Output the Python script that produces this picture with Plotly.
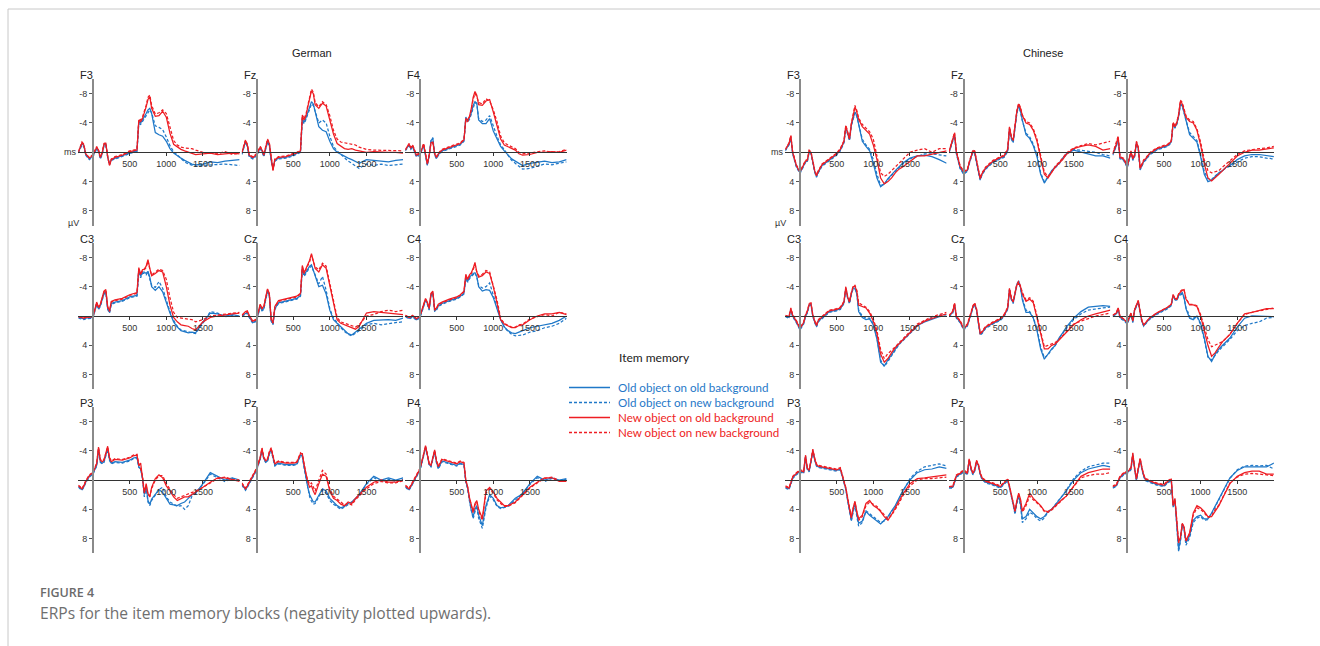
import plotly.graph_objects as go

# ---------------- data (µV, negativity up) ----------------
T = [-200, -150, -125, -100, -50, 0, 50, 75, 100, 125, 150, 175, 200, 225, 250, 300, 400, 500, 550, 600,
     625, 650, 675, 700, 725, 750, 775, 800, 850, 900, 950, 1000, 1050, 1100, 1150, 1200, 1250, 1300, 1350, 1400,
     1500, 1600, 1700, 1800, 1900, 2000]

# German
G_F3_oo = [0.0,-1.2,-0.9,0.3,0.9,0.5,-0.6,-0.2,0.8,0.2,-1.0,-1.1,0.6,1.6,1.0,0.8,0.5,0.0,-0.1,-0.2,
           -4.2,-4.0,-4.4,-4.9,-5.3,-5.8,-6.0,-5.3,-2.7,-2.4,-2.2,-1.5,-0.5,0.1,0.5,0.8,1.1,1.4,1.6,1.7,
           1.6,1.3,1.4,1.2,1.1,1.0]
G_F3_on = [0.1,-1.0,-0.8,0.4,1.0,0.6,-0.4,-0.1,0.9,0.3,-0.9,-1.0,0.7,1.7,1.1,0.9,0.6,0.1,0.0,-0.1,
           -3.9,-3.8,-4.2,-4.7,-5.1,-5.5,-5.8,-5.4,-3.6,-3.4,-3.1,-2.1,-0.9,-0.1,0.4,0.9,1.3,1.6,1.8,1.9,
           1.8,1.7,1.6,1.6,1.7,1.8]
G_F3_no = [0.0,-1.3,-1.0,0.2,0.8,0.4,-0.7,-0.3,0.7,0.1,-1.1,-1.2,0.6,1.8,1.0,0.7,0.4,-0.1,-0.2,-0.3,
           -4.4,-4.2,-4.6,-5.3,-6.2,-7.2,-7.6,-6.0,-4.9,-5.0,-5.6,-4.8,-2.6,-1.1,-0.7,-0.4,-0.2,0.0,0.2,0.3,
           0.2,0.1,0.3,0.2,0.1,0.2]
G_F3_nn = [-0.1,-1.4,-1.1,0.2,0.7,0.3,-0.8,-0.3,0.6,0.0,-1.2,-1.3,0.5,1.7,0.9,0.6,0.3,-0.2,-0.3,-0.4,
           -4.5,-4.4,-4.8,-5.5,-6.4,-7.5,-7.8,-6.4,-5.2,-5.4,-5.8,-5.3,-3.3,-1.6,-1.0,-0.7,-0.6,-0.6,-0.5,-0.3,
           0.0,0.1,0.2,-0.1,0.3,0.1]

G_Fz_oo = [0.2,-1.5,-0.9,0.5,0.8,0.4,-0.6,-0.2,0.5,-0.4,-1.5,-1.0,1.1,2.2,1.1,0.8,0.7,0.4,0.2,-0.1,
           -4.6,-4.1,-4.7,-5.5,-6.3,-6.9,-6.6,-5.6,-3.5,-3.0,-2.8,-1.5,-0.5,0.0,0.3,0.6,0.8,1.0,1.3,1.5,
           1.0,1.1,1.2,1.3,1.1,1.0]
G_Fz_on = [0.3,-1.4,-0.8,0.6,0.9,0.5,-0.5,-0.1,0.6,-0.3,-1.4,-0.9,1.2,2.3,1.2,0.9,0.8,0.5,0.3,0.0,
           -4.3,-3.9,-4.5,-5.3,-6.0,-6.6,-6.4,-5.5,-4.0,-4.4,-4.0,-2.2,-0.8,-0.2,0.3,0.8,1.2,1.5,1.8,2.2,
           1.6,1.8,1.6,1.8,1.7,1.6]
G_Fz_no = [0.1,-1.6,-1.0,0.4,0.7,0.3,-0.7,-0.3,0.4,-0.5,-1.7,-1.2,1.0,2.5,1.0,0.7,0.6,0.3,0.1,-0.2,
           -5.0,-4.4,-5.0,-6.2,-7.4,-8.4,-8.0,-6.5,-6.0,-6.7,-6.3,-4.5,-2.5,-1.2,-0.8,-0.5,-0.4,-0.5,-0.3,-0.2,
           0.0,-0.1,0.0,0.0,0.0,0.1]
G_Fz_nn = [0.0,-1.7,-1.1,0.3,0.6,0.2,-0.8,-0.4,0.3,-0.6,-1.8,-1.3,0.9,2.4,0.9,0.6,0.5,0.2,0.0,-0.3,
           -5.1,-4.6,-5.2,-6.4,-7.6,-8.6,-8.2,-6.8,-6.2,-6.9,-6.5,-5.0,-3.0,-1.8,-1.4,-1.3,-1.3,-1.2,-1.0,-0.7,
           -0.4,-0.3,-0.3,-0.3,-0.2,-0.2]

G_F4_oo = [-0.3,-1.0,-0.5,-0.8,0.5,0.3,-1.0,0.3,1.7,0.5,-1.6,-1.9,0.3,0.8,0.3,-0.2,-0.6,-0.9,-1.1,-1.6,
           -4.8,-4.3,-4.7,-5.4,-6.4,-6.9,-6.7,-4.4,-3.9,-3.9,-4.6,-2.9,-1.9,-0.8,-0.2,0.3,0.9,1.2,1.5,1.8,
           1.5,1.4,1.2,1.4,1.3,1.0]
G_F4_on = [-0.2,-0.9,-0.4,-0.7,0.6,0.4,-0.9,0.4,1.8,0.6,-1.5,-2.0,0.4,0.9,0.4,-0.1,-0.5,-0.8,-1.0,-1.5,
           -4.6,-4.1,-4.5,-5.2,-6.2,-6.8,-6.6,-4.6,-4.2,-4.4,-5.0,-3.5,-2.2,-1.0,-0.4,0.4,1.1,1.5,1.9,2.3,
           2.2,1.9,1.6,1.7,1.5,1.3]
G_F4_no = [-0.4,-1.1,-0.6,-0.9,0.4,0.2,-1.1,0.2,1.6,0.4,-1.3,-1.4,0.2,0.7,0.2,-0.3,-0.7,-1.0,-1.2,-1.7,
           -4.6,-4.4,-4.9,-6.0,-7.5,-8.3,-7.8,-6.5,-6.4,-7.0,-7.2,-5.5,-3.8,-1.8,-1.0,-0.8,-0.6,-0.3,0.2,0.4,
           0.3,0.0,0.0,-0.1,0.0,-0.3]
G_F4_nn = [-0.3,-1.2,-0.7,-1.0,0.3,0.1,-1.2,0.1,1.5,0.3,-1.2,-1.3,0.1,0.6,0.1,-0.4,-0.8,-1.1,-1.3,-1.8,
           -4.4,-4.2,-4.8,-5.8,-7.2,-8.0,-7.6,-6.8,-6.6,-7.3,-7.0,-5.8,-4.2,-2.2,-1.3,-1.0,-0.7,-0.5,0.0,0.2,
           0.1,-0.1,-0.2,0.0,-0.1,-0.4]

G_C3_oo = [0.2,0.3,0.4,0.3,0.2,0.2,-1.7,-1.0,-1.4,-2.1,-3.1,-3.3,-1.0,-0.5,-1.7,-1.9,-2.1,-2.6,-2.7,-2.8,
           -6.3,-5.4,-6.0,-6.0,-5.8,-6.1,-5.3,-4.0,-3.5,-4.0,-3.3,-1.7,-0.4,0.8,1.5,2.0,2.1,2.3,2.2,2.3,
           0.8,-0.4,-0.3,0.0,-0.2,0.0]
G_C3_on = [0.3,0.4,0.5,0.4,0.3,0.3,-1.6,-0.9,-1.3,-2.0,-3.0,-3.2,-0.9,-0.4,-1.6,-1.8,-2.0,-2.5,-2.6,-2.7,
           -6.0,-5.2,-5.8,-5.8,-5.6,-6.0,-5.0,-4.2,-3.9,-4.7,-3.8,-2.2,-0.6,0.6,1.4,1.9,2.0,2.2,2.3,2.4,
           1.0,-0.6,-0.4,0.1,-0.1,0.1]
G_C3_no = [0.1,0.3,0.3,0.2,0.2,0.1,-1.9,-1.2,-1.6,-2.4,-3.4,-3.6,-1.3,-0.7,-2.0,-2.2,-2.4,-2.9,-3.0,-3.2,
           -6.6,-5.7,-6.3,-6.4,-6.8,-7.7,-6.5,-5.5,-5.8,-6.2,-6.0,-4.0,-1.5,0.2,0.8,1.2,1.3,1.4,1.7,1.9,
           0.8,0.2,0.0,-0.2,-0.3,-0.4]
G_C3_nn = [0.1,0.2,0.3,0.2,0.1,0.1,-1.8,-1.1,-1.5,-2.3,-3.3,-3.5,-1.2,-0.6,-1.9,-2.1,-2.3,-2.8,-2.9,-3.1,
           -6.4,-5.6,-6.2,-6.3,-6.6,-7.5,-6.4,-5.6,-6.0,-6.4,-6.2,-5.0,-2.5,-0.5,0.2,0.3,0.3,0.5,0.5,0.8,
           0.5,0.0,-0.1,-0.3,-0.4,-0.5]

G_Cz_oo = [0.0,-0.4,-0.5,0.1,0.9,0.6,-1.3,-0.8,-1.0,-2.3,-3.4,-2.8,0.6,1.1,-1.0,-1.8,-2.0,-2.2,-2.4,-2.8,
           -6.5,-5.6,-6.0,-6.4,-6.8,-7.0,-6.3,-5.4,-4.0,-4.2,-3.0,-0.8,0.5,1.0,1.5,2.0,2.4,2.6,2.2,1.8,
           1.0,0.6,0.5,0.5,0.6,0.3]
G_Cz_on = [0.1,-0.3,-0.4,0.2,1.0,0.7,-1.2,-0.7,-0.9,-2.2,-3.3,-2.7,0.7,1.2,-0.9,-1.7,-1.9,-2.1,-2.3,-2.7,
           -6.3,-5.4,-5.8,-6.2,-6.6,-6.8,-6.2,-5.6,-4.4,-5.4,-3.5,-1.0,0.3,0.9,1.6,2.1,2.5,2.7,2.4,2.0,
           1.2,1.0,1.2,1.0,0.9,0.8]
G_Cz_no = [-0.1,-0.6,-0.7,-0.1,0.7,0.4,-1.6,-1.1,-1.3,-2.6,-3.7,-3.1,0.4,0.9,-1.3,-2.1,-2.3,-2.5,-2.7,-3.1,
           -6.9,-5.9,-6.4,-6.9,-7.6,-8.5,-7.5,-6.5,-6.0,-7.0,-6.5,-4.0,-1.5,0.5,1.0,1.2,1.3,1.5,1.8,1.4,
           -0.4,-0.6,-0.5,-0.3,-0.3,-0.2]
G_Cz_nn = [-0.1,-0.5,-0.6,0.0,0.8,0.5,-1.5,-1.0,-1.2,-2.5,-3.6,-3.0,0.5,1.0,-1.2,-2.0,-2.2,-2.4,-2.6,-3.0,
           -6.7,-5.8,-6.3,-6.7,-7.4,-8.3,-7.4,-6.7,-6.3,-7.2,-6.8,-4.5,-2.0,0.2,0.8,1.0,1.1,1.3,1.5,1.2,
           0.0,-0.2,-0.6,-0.8,-0.6,-0.8]

G_C4_oo = [0.0,0.3,0.2,0.0,0.5,0.1,-1.4,-2.2,-1.7,-0.9,-2.9,-3.2,-0.7,-0.9,-1.4,-1.7,-2.1,-2.4,-2.7,-3.1,
           -5.3,-4.7,-5.3,-5.6,-5.8,-5.9,-5.4,-4.0,-3.4,-3.6,-3.5,-2.5,-1.0,0.5,1.5,2.0,2.3,2.4,2.2,2.0,
           1.6,1.4,1.2,1.0,0.6,0.0]
G_C4_on = [0.1,0.4,0.3,0.1,0.6,0.2,-1.3,-2.1,-1.6,-0.8,-2.8,-3.1,-0.6,-0.8,-1.3,-1.6,-2.0,-2.3,-2.6,-3.0,
           -5.1,-4.6,-5.1,-5.4,-5.7,-5.9,-5.3,-4.2,-3.8,-4.0,-4.5,-3.0,-1.2,0.4,1.5,2.1,2.5,2.7,2.7,2.6,
           2.2,2.0,1.6,1.4,1.0,0.3]
G_C4_no = [-0.1,0.2,0.1,-0.1,0.4,0.0,-1.6,-2.4,-1.9,-1.1,-3.1,-3.4,-0.9,-1.1,-1.6,-1.9,-2.3,-2.6,-2.9,-3.4,
           -5.7,-5.0,-5.6,-5.9,-6.5,-7.3,-6.0,-5.3,-5.5,-6.0,-5.8,-4.0,-1.8,0.5,1.1,1.4,1.6,1.6,1.3,1.2,
           0.5,0.0,-0.3,-0.3,-0.5,-0.2]
G_C4_nn = [-0.1,0.2,0.1,-0.1,0.3,0.0,-1.5,-2.3,-1.8,-1.0,-3.0,-3.3,-0.8,-1.0,-1.5,-1.8,-2.2,-2.5,-2.8,-3.3,
           -5.5,-4.9,-5.5,-5.8,-6.3,-7.0,-6.0,-5.5,-5.7,-6.2,-6.0,-4.2,-2.2,0.3,1.0,1.3,1.5,1.5,1.2,1.1,
           0.4,0.1,-0.2,0.0,-0.5,-0.3]

G_P3_oo = [0.9,1.3,0.9,0.3,-0.5,-0.9,-2.0,-4.2,-2.5,-2.3,-2.5,-3.3,-4.3,-2.8,-2.3,-2.5,-2.4,-2.7,-3.0,-3.1,
           -1.8,-1.5,-0.3,2.0,0.8,2.8,3.3,2.6,1.9,1.3,1.7,2.6,3.3,3.4,3.5,3.2,3.0,2.5,2.0,1.8,
           0.5,-1.0,-0.5,0.0,-0.3,0.0]
G_P3_on = [1.0,1.4,1.0,0.4,-0.4,-0.8,-1.9,-4.0,-2.4,-2.2,-2.4,-3.2,-4.2,-2.7,-2.2,-2.4,-2.3,-2.6,-2.9,-3.0,
           -1.7,-1.6,-0.2,2.3,1.0,3.0,3.5,2.8,2.0,1.3,1.0,2.3,3.0,3.3,3.6,3.5,4.0,3.5,2.2,1.8,
           0.6,-0.8,-0.3,0.2,-0.2,0.1]
G_P3_no = [0.8,1.2,0.8,0.2,-0.6,-1.0,-2.2,-4.5,-2.7,-2.5,-2.7,-3.5,-4.6,-3.0,-2.5,-2.8,-2.7,-3.0,-3.3,-3.4,
           -2.0,-2.3,-0.5,1.8,0.5,1.8,2.3,1.0,-0.2,-0.7,-0.3,0.8,1.5,2.3,2.8,2.5,2.3,2.3,2.0,1.7,
           1.0,0.3,-0.3,-0.3,0.0,0.2]
G_P3_nn = [0.7,1.1,0.7,0.1,-0.7,-1.1,-2.3,-4.4,-2.8,-2.6,-2.8,-3.6,-4.5,-3.1,-2.6,-2.9,-2.8,-3.1,-3.4,-3.5,
           -2.1,-1.5,-0.6,1.6,0.8,2.0,2.2,1.2,0.0,-0.6,-0.6,0.5,1.2,2.0,2.5,2.3,2.1,2.0,1.8,1.5,
           1.0,0.4,-0.2,-0.4,-0.1,0.0]

G_Pz_oo = [0.6,1.3,0.9,0.4,-0.4,-1.4,-2.9,-4.1,-2.9,-2.5,-2.6,-3.6,-4.1,-2.8,-2.0,-2.3,-2.1,-2.1,-2.2,-3.4,
           -3.3,-1.8,-0.3,1.0,2.0,2.6,3.0,3.0,2.0,1.2,1.5,2.5,3.0,3.5,3.8,3.6,3.2,3.0,2.5,2.0,
           0.5,-0.5,0.0,-0.3,0.0,-0.3]
G_Pz_on = [0.7,1.4,1.0,0.5,-0.3,-1.3,-2.8,-4.0,-2.8,-2.4,-2.5,-3.5,-4.0,-2.7,-1.9,-2.2,-2.0,-2.0,-2.1,-3.3,
           -3.2,-1.6,-0.2,1.3,2.3,2.9,3.3,3.2,2.2,1.4,1.8,2.8,3.3,3.7,4.0,3.7,3.4,3.0,2.6,2.1,
           0.6,-0.3,0.2,-0.1,0.2,-0.1]
G_Pz_no = [0.5,1.2,0.8,0.3,-0.5,-1.5,-3.0,-4.3,-3.0,-2.6,-2.8,-3.8,-4.3,-3.0,-2.2,-2.5,-2.3,-2.3,-2.4,-3.6,
           -3.6,-2.1,-0.6,0.3,1.0,0.8,1.5,2.0,0.5,-0.8,-0.5,1.5,2.5,2.8,3.3,3.5,3.0,3.2,2.5,2.0,
           1.0,0.3,0.0,0.3,0.3,0.0]
G_Pz_nn = [0.4,1.1,0.7,0.2,-0.6,-1.6,-3.1,-4.4,-3.1,-2.7,-2.9,-3.9,-4.4,-3.1,-2.3,-2.6,-2.4,-2.4,-2.5,-3.7,
           -3.5,-2.2,-0.7,0.0,0.6,0.4,1.0,1.5,0.0,-1.3,-0.8,1.2,2.2,2.6,3.1,3.4,3.2,3.4,2.7,2.2,
           1.2,0.5,0.2,0.4,0.4,0.1]

G_P4_oo = [0.9,1.3,0.9,0.4,-0.4,-1.4,-3.4,-4.5,-3.4,-2.1,-1.9,-2.9,-3.9,-2.4,-1.6,-2.6,-2.3,-2.0,-2.3,-2.1,
           0.2,1.1,2.7,4.2,5.0,4.0,3.5,4.8,6.2,3.5,2.0,2.5,3.5,3.8,3.7,3.5,3.0,2.5,2.2,1.8,
           0.5,-0.5,0.0,-0.3,0.0,-0.2]
G_P4_on = [1.0,1.4,1.0,0.5,-0.3,-1.3,-3.3,-4.4,-3.3,-2.0,-1.8,-2.8,-3.8,-2.3,-1.5,-2.5,-2.2,-1.9,-2.2,-2.0,
           0.3,1.2,2.9,4.4,5.3,4.3,3.8,5.2,6.6,3.8,2.2,2.7,3.6,3.9,3.8,3.6,3.2,2.7,2.3,1.9,
           0.6,-0.3,0.2,-0.2,0.1,-0.1]
G_P4_no = [0.8,1.2,0.8,0.3,-0.5,-1.5,-3.5,-4.7,-3.5,-2.2,-2.0,-3.0,-4.1,-2.6,-1.8,-2.8,-2.5,-2.2,-2.5,-2.3,
           0.0,0.9,2.4,3.5,4.3,3.2,2.8,4.0,5.2,1.5,1.0,1.6,2.5,3.0,3.5,3.5,3.2,3.0,2.5,2.0,
           1.0,0.3,-0.3,-0.3,0.2,0.2]
G_P4_nn = [0.7,1.1,0.7,0.2,-0.6,-1.6,-3.6,-4.6,-3.6,-2.3,-2.1,-3.1,-4.0,-2.7,-1.9,-2.9,-2.6,-2.3,-2.6,-2.4,
           0.1,1.0,2.5,3.7,4.5,3.4,3.0,4.2,5.5,1.8,1.2,1.8,2.7,3.2,3.6,3.6,3.3,3.1,2.6,2.1,
           1.1,0.4,-0.2,-0.4,0.1,0.1]

# Chinese
C_F3_oo = [-0.3,-1.1,-2.0,0.1,1.9,2.8,1.8,1.3,1.2,-0.1,0.1,1.6,2.6,3.3,2.7,1.8,1.0,0.3,-0.3,-1.4,
           -3.4,-2.4,-1.7,-3.7,-4.8,-5.5,-5.0,-3.8,-1.5,-0.8,-0.2,1.5,3.5,4.7,4.3,3.6,3.0,2.5,2.0,1.5,
           0.8,0.5,0.4,0.6,1.0,1.5]
C_F3_on = [-0.2,-1.0,-1.9,0.2,2.0,2.9,1.9,1.4,1.3,0.0,0.2,1.7,2.7,3.4,2.8,1.9,1.1,0.4,-0.2,-1.3,
           -3.3,-2.3,-1.6,-3.6,-4.7,-5.4,-4.9,-3.9,-1.8,-1.0,-0.4,1.0,3.0,4.5,4.4,3.7,3.1,2.6,2.1,1.6,
           0.9,0.6,0.2,0.2,0.3,0.5]
C_F3_no = [-0.4,-1.2,-2.2,0.0,1.8,2.7,1.7,1.2,1.1,-0.2,0.0,1.5,2.5,3.2,2.6,1.7,0.9,0.2,-0.4,-1.5,
           -3.6,-2.5,-1.8,-3.8,-5.2,-6.2,-5.5,-4.5,-3.5,-3.0,-2.5,-1.0,1.0,3.5,4.3,4.0,3.5,2.8,2.3,2.0,
           1.2,0.5,0.5,0.3,0.0,-0.2]
C_F3_nn = [-0.4,-1.3,-2.3,-0.1,1.7,2.6,1.6,1.1,1.0,-0.3,-0.1,1.4,2.4,3.1,2.5,1.6,0.8,0.1,-0.5,-1.6,
           -3.7,-2.6,-1.9,-3.9,-5.4,-6.4,-5.7,-4.7,-3.8,-3.3,-2.8,-1.8,0.5,2.8,3.3,3.0,2.5,2.0,1.5,1.0,
           0.0,-0.3,-0.5,0.0,-0.5,-0.5]

C_Fz_oo = [0.0,-1.4,-2.4,0.1,2.1,2.9,2.5,1.5,0.5,-0.1,0.1,1.6,2.6,3.7,3.0,2.2,1.3,0.8,0.6,-0.2,
           -3.2,-1.9,-1.4,-3.4,-5.4,-6.4,-5.6,-4.4,-2.4,-1.9,-0.9,0.6,3.0,4.2,3.3,2.5,2.0,1.5,0.8,0.2,
           -0.3,0.0,0.3,0.5,0.5,0.8]
C_Fz_on = [0.1,-1.3,-2.3,0.2,2.2,3.0,2.6,1.6,0.6,0.0,0.2,1.7,2.7,3.8,3.1,2.3,1.4,0.9,0.7,-0.1,
           -3.1,-1.8,-1.3,-3.3,-5.3,-6.3,-5.5,-4.3,-2.6,-2.1,-1.1,0.3,2.8,4.0,3.4,2.6,2.1,1.6,0.9,0.3,
           -0.4,-0.3,-0.2,0.0,0.3,0.5]
C_Fz_no = [-0.1,-1.6,-2.6,-0.1,1.9,2.7,2.4,1.4,0.4,-0.2,-0.1,1.4,2.4,3.6,2.9,2.1,1.2,0.7,0.5,-0.4,
           -3.4,-2.1,-1.6,-3.6,-5.6,-6.6,-6.0,-5.0,-4.0,-3.8,-3.0,-1.5,1.0,3.0,3.5,2.8,2.0,1.5,1.0,0.3,
           -0.5,-0.8,-1.0,-0.8,-0.3,-0.5]
C_Fz_nn = [-0.1,-1.7,-2.7,-0.2,1.8,2.6,2.3,1.3,0.3,-0.3,-0.2,1.3,2.3,3.5,2.8,2.0,1.1,0.6,0.4,-0.5,
           -3.5,-2.2,-1.7,-3.7,-5.7,-6.7,-6.1,-5.1,-4.2,-4.0,-3.2,-1.8,0.6,2.7,3.3,2.7,1.9,1.4,0.8,0.1,
           -0.6,-0.9,-1.2,-1.0,-1.2,-1.5]

C_F4_oo = [0.3,-0.9,-1.9,0.8,1.0,2.0,0.0,1.0,0.5,-1.3,-0.5,2.3,1.8,1.2,1.0,0.3,-0.4,-0.7,-0.9,-1.4,
           -3.9,-3.4,-3.9,-4.9,-6.6,-6.4,-5.3,-4.2,-2.4,-1.9,-1.4,0.6,3.0,4.0,3.8,3.3,2.8,2.5,2.0,1.8,
           1.0,0.5,0.3,0.3,0.5,0.6]
C_F4_on = [0.4,-0.8,-1.8,0.9,1.1,2.1,0.1,1.1,0.6,-1.2,-0.4,2.4,1.9,1.3,1.1,0.4,-0.3,-0.6,-0.8,-1.3,
           -3.8,-3.3,-3.8,-4.8,-6.5,-6.3,-5.2,-4.4,-2.7,-2.2,-1.6,0.3,2.6,3.6,3.7,3.2,2.8,2.5,2.1,1.9,
           1.3,0.8,0.6,0.6,0.8,0.9]
C_F4_no = [0.2,-1.1,-2.1,0.7,0.9,1.9,-0.1,0.9,0.4,-1.4,-0.6,2.2,1.7,1.1,0.9,0.2,-0.5,-0.8,-1.0,-1.5,
           -4.0,-3.5,-4.0,-5.1,-7.0,-6.6,-5.7,-4.8,-4.2,-4.0,-3.0,-1.0,1.5,3.5,3.9,3.5,3.0,2.5,2.0,1.5,
           0.5,0.0,-0.3,-0.3,-0.5,-0.6]
C_F4_nn = [0.2,-1.2,-2.2,0.6,0.8,1.8,-0.2,0.8,0.3,-1.5,-0.7,2.1,1.6,1.0,0.8,0.1,-0.6,-0.9,-1.1,-1.6,
           -4.1,-3.6,-4.1,-5.2,-7.1,-6.8,-5.9,-5.0,-4.4,-4.2,-3.2,-1.4,1.0,2.5,2.8,2.6,2.5,2.0,1.6,1.2,
           0.3,-0.2,-0.4,-0.5,-0.6,-0.8]

C_C3_oo = [0.0,0.2,-0.9,0.0,0.8,1.8,1.0,0.0,-0.5,-1.5,-1.6,0.0,0.8,1.4,0.7,0.3,-0.6,-0.8,-1.0,-1.8,
           -3.8,-2.5,-1.8,-3.0,-3.8,-3.8,-3.0,-0.6,0.2,0.5,0.4,1.2,3.2,6.3,6.8,6.0,5.3,4.5,3.8,3.3,
           2.3,1.3,0.8,0.4,0.1,0.0]
C_C3_on = [0.1,0.3,-0.8,0.1,0.9,1.9,1.1,0.1,-0.4,-1.4,-1.5,0.1,0.9,1.5,0.8,0.4,-0.5,-0.7,-0.9,-1.7,
           -3.7,-2.4,-1.7,-2.9,-3.7,-3.7,-3.1,-0.8,0.0,0.3,0.3,1.0,3.0,6.0,6.9,6.2,5.4,4.6,3.9,3.4,
           2.4,1.4,0.7,0.2,-0.1,-0.2]
C_C3_no = [-0.1,0.1,-1.0,-0.1,0.7,1.7,0.9,-0.1,-0.6,-1.6,-1.7,-0.1,0.7,1.3,0.6,0.2,-0.7,-0.9,-1.1,-1.9,
           -3.9,-2.6,-1.9,-3.1,-4.0,-4.1,-3.4,-1.5,-1.3,-1.1,-0.4,0.7,2.4,5.2,6.3,5.8,5.0,4.3,3.8,3.3,
           2.3,1.3,0.7,0.3,0.0,-0.3]
C_C3_nn = [0.0,0.0,-1.1,-0.2,0.6,1.6,0.8,-0.2,-0.7,-1.7,-1.8,-0.2,0.6,1.2,0.5,0.1,-0.8,-1.0,-1.2,-2.0,
           -4.0,-2.7,-2.0,-3.2,-4.1,-4.2,-3.5,-1.8,-1.5,-1.2,-0.6,0.4,2.0,4.6,5.8,5.1,4.7,4.2,3.6,3.1,
           2.1,1.1,0.6,0.1,-0.2,-0.5]

C_Cz_oo = [0.0,-0.5,-1.6,0.2,0.8,1.8,1.3,0.3,-0.3,-1.2,-1.6,-0.8,1.0,2.5,2.3,1.6,1.0,0.5,0.0,-1.0,
           -3.6,-2.3,-1.8,-3.0,-4.3,-4.8,-3.9,-2.2,-0.5,-0.5,0.3,2.0,4.5,5.9,5.2,4.5,4.0,3.0,2.3,1.5,
           0.3,-0.6,-1.2,-1.3,-1.4,-1.3]
C_Cz_on = [0.1,-0.4,-1.5,0.3,0.9,1.9,1.4,0.4,-0.2,-1.1,-1.5,-0.7,1.1,2.6,2.4,1.7,1.1,0.6,0.1,-0.9,
           -3.5,-2.2,-1.7,-2.9,-4.1,-4.6,-3.8,-2.4,-0.8,-0.6,0.2,1.8,4.2,5.7,5.3,4.6,4.0,3.1,2.4,1.7,
           0.5,-0.3,-0.8,-1.0,-1.1,-1.2]
C_Cz_no = [-0.1,-0.6,-1.7,0.1,0.7,1.7,1.2,0.2,-0.4,-1.3,-1.7,-0.9,0.9,2.4,2.2,1.5,0.9,0.4,-0.1,-1.1,
           -3.7,-2.4,-1.9,-3.1,-4.2,-4.5,-4.0,-3.0,-2.0,-2.3,-1.8,0.3,2.5,4.5,4.5,4.0,3.8,3.3,2.8,2.3,
           1.2,0.5,0.0,-0.3,-0.5,-0.8]
C_Cz_nn = [0.0,-0.7,-1.8,0.0,0.6,1.6,1.1,0.1,-0.5,-1.4,-1.8,-1.0,0.8,2.3,2.1,1.4,0.8,0.3,-0.2,-1.2,
           -3.8,-2.5,-2.0,-3.2,-4.4,-4.7,-4.1,-3.2,-2.2,-2.5,-2.0,0.0,2.2,4.2,4.0,3.8,3.6,3.2,2.7,2.2,
           1.1,0.7,0.3,0.0,-0.2,-0.4]

C_C4_oo = [0.0,-0.3,-1.0,0.2,0.5,1.0,-0.3,0.8,-0.8,-1.5,-2.0,-0.5,0.8,1.3,1.0,0.4,-0.3,-0.8,-1.1,-1.5,
           -2.8,-2.3,-2.2,-2.8,-3.0,-3.2,-2.5,-1.0,0.3,0.5,0.0,1.0,3.0,5.5,6.2,5.2,4.5,4.0,3.5,3.0,
           1.5,0.3,0.0,0.0,0.1,0.1]
C_C4_on = [0.1,-0.2,-0.9,0.3,0.6,1.1,-0.2,0.9,-0.7,-1.4,-1.9,-0.4,0.9,1.4,1.1,0.5,-0.2,-0.7,-1.0,-1.4,
           -2.7,-2.2,-2.1,-2.7,-2.9,-3.0,-2.4,-1.2,0.0,0.3,0.0,1.2,3.2,5.6,6.0,5.3,4.7,4.2,3.7,3.2,
           2.0,1.3,1.0,0.8,0.3,0.2]
C_C4_no = [-0.1,-0.4,-1.1,0.1,0.4,0.9,-0.4,0.7,-0.9,-1.6,-2.1,-0.6,0.7,1.2,0.9,0.3,-0.4,-0.9,-1.2,-1.6,
           -2.9,-2.4,-2.3,-3.0,-3.3,-3.5,-3.6,-2.3,-1.5,-1.5,-1.3,0.0,2.0,4.0,5.5,5.0,4.2,3.5,3.0,2.5,
           1.0,-0.3,-0.5,-0.8,-1.0,-1.0]
C_C4_nn = [-0.1,-0.4,-1.1,0.0,0.4,0.9,-0.4,0.6,-0.9,-1.6,-2.1,-0.6,0.6,1.2,0.9,0.3,-0.4,-0.9,-1.2,-1.6,
           -2.9,-2.4,-2.3,-3.0,-3.4,-3.6,-3.5,-2.4,-1.6,-1.6,-1.4,-0.2,1.6,3.2,4.2,4.0,3.8,3.5,3.0,2.5,
           1.0,-0.2,-0.5,-0.7,-0.9,-1.1]

C_P3_oo = [1.0,1.2,0.5,-0.3,-0.8,-1.2,-1.0,-3.2,-1.5,-1.2,-2.5,-4.0,-2.8,-2.0,-1.8,-1.7,-1.5,-1.3,-1.5,0.2,
           1.2,2.7,4.0,5.5,4.2,3.2,4.7,5.9,5.6,4.3,4.8,5.2,5.5,6.0,5.5,5.0,4.2,3.5,2.5,1.5,
           0.0,-1.0,-1.4,-1.5,-1.8,-1.6]
C_P3_on = [1.1,1.3,0.6,-0.2,-0.7,-1.1,-0.9,-3.1,-1.4,-1.1,-2.4,-3.9,-2.7,-1.9,-1.7,-1.6,-1.4,-1.2,-1.4,0.3,
           1.3,2.8,4.1,5.6,4.4,3.4,5.0,6.3,5.8,4.2,4.6,5.0,5.4,5.8,5.6,5.1,4.3,3.6,2.6,1.6,
           -0.2,-1.2,-1.8,-2.0,-2.2,-1.9]
C_P3_no = [0.9,1.1,0.4,-0.4,-0.9,-1.3,-1.1,-3.3,-1.6,-1.3,-2.6,-4.1,-2.9,-2.1,-1.9,-1.8,-1.6,-1.4,-1.6,0.1,
           1.1,2.5,3.8,5.2,3.8,2.9,4.3,5.3,4.8,3.2,2.8,3.5,3.8,4.3,5.0,5.5,4.7,3.8,3.0,2.0,
           0.5,-0.2,-0.3,-0.4,-0.5,-0.7]
C_P3_nn = [0.8,1.0,0.3,-0.5,-1.0,-1.4,-1.2,-3.4,-1.7,-1.4,-2.7,-4.2,-3.0,-2.2,-2.0,-1.9,-1.7,-1.5,-1.7,0.0,
           1.0,2.4,3.7,5.0,3.9,3.0,4.4,5.5,5.0,3.5,3.0,3.3,3.6,4.2,4.8,5.3,4.8,4.0,3.2,2.2,
           0.8,0.0,-0.2,-0.2,-0.3,-0.4]

C_Pz_oo = [1.0,1.0,0.3,-0.5,-0.8,-1.2,-0.8,-2.7,-1.5,-0.8,-1.3,-2.5,-2.0,-0.8,-0.2,0.3,0.6,1.0,0.5,0.0,
           1.0,2.0,3.3,4.5,3.0,2.2,3.2,5.3,5.0,4.0,4.5,5.0,5.3,5.0,4.3,4.0,3.4,2.8,2.2,1.5,
           0.0,-1.0,-1.5,-1.8,-2.0,-1.8]
C_Pz_on = [1.1,1.1,0.4,-0.4,-0.7,-1.1,-0.7,-2.6,-1.4,-0.7,-1.2,-2.4,-1.9,-0.7,-0.1,0.4,0.7,1.1,0.6,0.1,
           1.1,2.1,3.4,4.7,3.2,2.4,3.5,5.8,5.3,4.4,4.7,5.3,5.6,5.2,4.4,4.0,3.3,2.7,2.1,1.4,
           -0.2,-1.2,-1.8,-2.1,-2.3,-2.3]
C_Pz_no = [0.9,0.9,0.2,-0.6,-0.9,-1.3,-0.9,-2.8,-1.6,-0.9,-1.4,-2.6,-2.1,-0.9,-0.3,0.2,0.5,0.9,0.4,-0.1,
           0.9,1.9,3.2,4.3,2.8,1.8,2.6,4.2,3.2,1.8,2.5,3.0,3.5,4.2,4.3,4.0,3.5,3.0,2.6,2.2,
           0.8,-0.5,-1.0,-1.3,-1.5,-1.5]
C_Pz_nn = [0.9,0.8,0.1,-0.7,-1.0,-1.4,-1.0,-2.9,-1.7,-1.0,-1.5,-2.7,-2.2,-1.0,-0.4,0.1,0.4,0.8,0.3,-0.2,
           0.8,1.8,3.1,4.2,2.9,1.9,2.8,4.4,3.5,2.2,2.7,3.2,3.6,4.3,4.4,4.1,3.6,3.1,2.6,2.2,
           0.9,-0.3,-0.6,-0.8,-0.8,-1.0]

C_P4_oo = [1.0,0.8,0.2,-0.3,-0.8,-1.0,-1.5,-3.5,-1.5,0.0,-1.5,-2.8,-1.5,-0.5,0.0,0.2,0.6,0.8,0.3,0.0,
           3.6,2.7,5.6,9.4,8.2,6.0,6.6,8.6,7.6,5.5,5.0,4.8,5.3,5.3,4.5,3.5,2.5,1.5,0.5,-0.3,
           -1.3,-1.8,-1.8,-1.8,-1.8,-2.3]
C_P4_on = [1.1,0.9,0.3,-0.2,-0.7,-0.9,-1.4,-3.4,-1.4,0.1,-1.4,-2.7,-1.4,-0.4,0.1,0.3,0.7,0.9,0.4,0.1,
           3.7,2.8,5.8,9.8,8.4,6.2,6.8,8.9,7.9,5.8,5.2,5.0,5.5,5.4,4.6,3.6,2.6,1.6,0.6,-0.2,
           -1.4,-1.9,-2.0,-1.9,-2.0,-1.5]
C_P4_no = [0.9,0.7,0.1,-0.4,-0.9,-1.1,-1.6,-3.6,-1.6,-0.1,-1.6,-2.9,-1.6,-0.6,-0.1,0.1,0.5,0.7,0.2,-0.1,
           3.5,2.6,5.4,8.5,7.8,5.9,6.4,8.3,7.2,4.5,3.5,3.8,4.3,5.0,5.0,4.2,3.5,2.5,1.5,0.5,
           -0.5,-1.0,-1.2,-1.2,-0.8,-0.8]
C_P4_nn = [0.8,0.6,0.0,-0.5,-1.0,-1.2,-1.7,-3.7,-1.7,-0.2,-1.7,-3.0,-1.7,-0.7,-0.2,0.0,0.4,0.6,0.1,-0.2,
           3.4,2.5,5.3,8.6,7.9,6.0,6.5,8.4,7.4,4.8,3.8,4.0,4.5,5.1,4.9,4.0,3.4,2.4,1.4,0.4,
           -0.4,-0.8,-0.9,-0.8,-0.6,-0.6]

CONDITIONS = ["Old object on old background", "Old object on new background",
              "New object on old background", "New object on new background"]
GROUPS = ["German", "Chinese"]
ELECTRODES = [["F3", "Fz", "F4"], ["C3", "Cz", "C4"], ["P3", "Pz", "P4"]]
X_TICKS = [500, 1000, 1500]
X_TICK_TEXT = ["500", "1000", "1500"]
Y_TICKS = [-8, -4, 4, 8]
Y_TICK_TEXT = ["-8", "-4", "4", "8"]
LEGEND_TITLE = "Item memory"
CAPTION_LABEL = "FIGURE 4"
CAPTION_TEXT = "ERPs for the item memory blocks (negativity plotted upwards)."

PANEL_DATA = {
    ("German", "F3"): [G_F3_oo, G_F3_on, G_F3_no, G_F3_nn],
    ("German", "Fz"): [G_Fz_oo, G_Fz_on, G_Fz_no, G_Fz_nn],
    ("German", "F4"): [G_F4_oo, G_F4_on, G_F4_no, G_F4_nn],
    ("German", "C3"): [G_C3_oo, G_C3_on, G_C3_no, G_C3_nn],
    ("German", "Cz"): [G_Cz_oo, G_Cz_on, G_Cz_no, G_Cz_nn],
    ("German", "C4"): [G_C4_oo, G_C4_on, G_C4_no, G_C4_nn],
    ("German", "P3"): [G_P3_oo, G_P3_on, G_P3_no, G_P3_nn],
    ("German", "Pz"): [G_Pz_oo, G_Pz_on, G_Pz_no, G_Pz_nn],
    ("German", "P4"): [G_P4_oo, G_P4_on, G_P4_no, G_P4_nn],
    ("Chinese", "F3"): [C_F3_oo, C_F3_on, C_F3_no, C_F3_nn],
    ("Chinese", "Fz"): [C_Fz_oo, C_Fz_on, C_Fz_no, C_Fz_nn],
    ("Chinese", "F4"): [C_F4_oo, C_F4_on, C_F4_no, C_F4_nn],
    ("Chinese", "C3"): [C_C3_oo, C_C3_on, C_C3_no, C_C3_nn],
    ("Chinese", "Cz"): [C_Cz_oo, C_Cz_on, C_Cz_no, C_Cz_nn],
    ("Chinese", "C4"): [C_C4_oo, C_C4_on, C_C4_no, C_C4_nn],
    ("Chinese", "P3"): [C_P3_oo, C_P3_on, C_P3_no, C_P3_nn],
    ("Chinese", "Pz"): [C_Pz_oo, C_Pz_on, C_Pz_no, C_Pz_nn],
    ("Chinese", "P4"): [C_P4_oo, C_P4_on, C_P4_no, C_P4_nn],
}

bad = [(k, i, len(s)) for k, v in PANEL_DATA.items() for i, s in enumerate(v) if len(s) != len(T)]
if bad:
    raise ValueError(f"length mismatch: {bad}")

# ---------------- styling / geometry ----------------
BLUE = "#1f78c8"
RED = "#ee1d23"
COLORS = [BLUE, BLUE, RED, RED]
DASHES = ["solid", "3px,2px", "solid", "3px,2px"]

W, H = 1320, 646
GROUP_AXIS_X = {"German": [93, 256.5, 420], "Chinese": [800, 963.7, 1127.3]}
GROUP_TITLE_X = {"German": 312, "Chinese": 1043}
ROW_ZERO_Y = [152.3, 316, 480]
PX_PER_MS = 0.0733
PX_PER_UV = 7.33
T_MIN, T_MAX = -200, 2000
V_LIM = 10

TICK_FONT = dict(family="Liberation Sans, Arial, sans-serif", size=9, color="#333333")
LABEL_FONT = dict(family="Liberation Sans, Arial, sans-serif", size=11, color="#222222")


def px(x):
    return x / W


def py(y):
    return 1 - y / H


fig = go.Figure()
layout_axes = {}
annotations = []
idx = 0
for g in GROUPS:
    for r, row in enumerate(ELECTRODES):
        for c, el in enumerate(row):
            idx += 1
            sfx = "" if idx == 1 else str(idx)
            x0 = GROUP_AXIS_X[g][c]
            y0 = ROW_ZERO_Y[r]
            for k, series in enumerate(PANEL_DATA[(g, el)]):
                fig.add_trace(go.Scatter(
                    x=T, y=series, xaxis="x" + sfx, yaxis="y" + sfx, mode="lines",
                    line=dict(color=COLORS[k], width=1.25, dash=DASHES[k]),
                    name=CONDITIONS[k], showlegend=False, hoverinfo="skip"))
            layout_axes["xaxis" + sfx] = dict(
                domain=[px(x0 + T_MIN * PX_PER_MS), px(x0 + T_MAX * PX_PER_MS)],
                range=[T_MIN, T_MAX], anchor="free", position=py(y0),
                showline=True, linecolor="#333333", linewidth=1.3,
                tickvals=X_TICKS, ticktext=X_TICK_TEXT, ticks="outside", ticklen=3,
                tickcolor="#333333", tickfont=TICK_FONT, showgrid=False, zeroline=False,
                fixedrange=True)
            layout_axes["yaxis" + sfx] = dict(
                domain=[py(y0 + V_LIM * PX_PER_UV), py(y0 - V_LIM * PX_PER_UV)],
                range=[V_LIM, -V_LIM], anchor="free", position=px(x0),
                showline=True, linecolor="#8a8a8a", linewidth=2,
                tickvals=Y_TICKS, ticktext=Y_TICK_TEXT, ticks="outside", ticklen=3,
                tickcolor="#555555", tickfont=TICK_FONT, showgrid=False, zeroline=False,
                fixedrange=True)
            annotations.append(dict(x=px(x0 - 15), y=py(y0 - 77), xref="paper", yref="paper",
                                    text=el, showarrow=False, xanchor="left", yanchor="middle",
                                    font=LABEL_FONT))
            if r == 0 and c == 0:
                annotations.append(dict(x=px(x0 - 15), y=py(y0), xref="paper", yref="paper",
                                        text="ms", showarrow=False, xanchor="right", yanchor="middle",
                                        font=TICK_FONT))
                annotations.append(dict(x=px(x0 - 20), y=py(y0 + 71), xref="paper", yref="paper",
                                        text="µV", showarrow=False, xanchor="center", yanchor="middle",
                                        font=TICK_FONT))
    annotations.append(dict(x=px(GROUP_TITLE_X[g]), y=py(53), xref="paper", yref="paper",
                            text=g, showarrow=False, xanchor="center", yanchor="middle",
                            font=LABEL_FONT))

# legend (drawn in paper space)
LEG_FONT = "Lato, 'Open Sans', sans-serif"
annotations.append(dict(x=px(617), y=py(357), xref="paper", yref="paper", text=LEGEND_TITLE,
                        showarrow=False, xanchor="left", yanchor="middle",
                        font=dict(family=LEG_FONT, size=12, color="#222222")))
shapes = []
LEG_ROWS = [387.5, 402.5, 417.5, 432.5]
for k, name in enumerate(CONDITIONS):
    yy = py(LEG_ROWS[k])
    shapes.append(dict(type="line", xref="paper", yref="paper", x0=px(569), x1=px(610), y0=yy, y1=yy,
                       line=dict(color=COLORS[k], width=1.4, dash=DASHES[k])))
    annotations.append(dict(x=px(616), y=yy, xref="paper", yref="paper", text=name,
                            showarrow=False, xanchor="left", yanchor="middle",
                            font=dict(family=LEG_FONT, size=11.6, color=COLORS[k])))

# caption
annotations.append(dict(x=px(38), y=py(592), xref="paper", yref="paper", text=CAPTION_LABEL,
                        showarrow=False, xanchor="left", yanchor="middle",
                        font=dict(family="'Open Sans', sans-serif", size=12.5, color="#6b6b6b",
                                  weight=600)))
annotations.append(dict(x=px(38), y=py(613), xref="paper", yref="paper", text=CAPTION_TEXT,
                        showarrow=False, xanchor="left", yanchor="middle",
                        font=dict(family="'Open Sans', sans-serif", size=15.6, color="#6f6f6f")))

# card border
shapes.append(dict(type="line", xref="paper", yref="paper", x0=px(8), x1=1, y0=py(9), y1=py(9),
                   line=dict(color="#c8c8c8", width=1)))
shapes.append(dict(type="line", xref="paper", yref="paper", x0=px(8), x1=px(8), y0=py(9), y1=0,
                   line=dict(color="#c8c8c8", width=1)))

fig.update_layout(
    width=W, height=H, margin=dict(l=0, r=0, t=0, b=0),
    paper_bgcolor="white", plot_bgcolor="white", showlegend=False,
    annotations=annotations, shapes=shapes, **layout_axes)

fig.write_html("out.html", config={"displayModeBar": False},
               post_script="document.body.style.margin='0';document.body.style.overflow='hidden';")
